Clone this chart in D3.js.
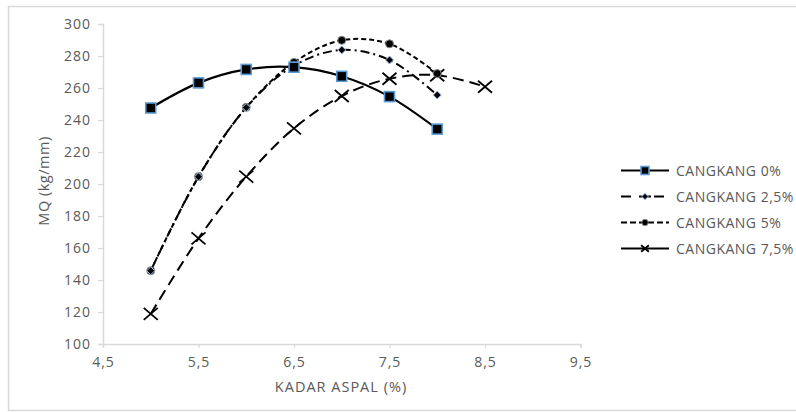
<!DOCTYPE html>
<html><head><meta charset="utf-8">
<script src="https://cdn.jsdelivr.net/npm/d3@7"></script>
<style>body{margin:0;background:#fff}svg{display:block}</style>
</head><body>
<script>
const xTicks = [4.5, 5.5, 6.5, 7.5, 8.5, 9.5];
const yTicks = [100, 120, 140, 160, 180, 200, 220, 240, 260, 280, 300];
const seriesNames = ["CANGKANG 0%", "CANGKANG 2,5%", "CANGKANG 5%", "CANGKANG 7,5%"];
const xs0 = [5, 5.5, 6, 6.5, 7, 7.5, 8];
const ys0 = [247.5, 263.2, 271.6, 273, 267.3, 254.6, 234.3];
const xs25 = [5, 5.5, 6, 6.5, 7, 7.5, 8];
const ys25 = [145.8, 204.5, 247.8, 274, 283.8, 277.5, 255.6];
const xs5 = [5, 5.5, 6, 6.5, 7, 7.5, 8];
const ys5 = [145.8, 204.6, 247.9, 276, 289.8, 287.6, 269];
const xs75 = [5, 5.5, 6, 6.5, 7, 7.5, 8, 8.5];
const ys75 = [118.8, 166, 204.6, 234.8, 255, 265.8, 268, 260.8];

const W = 796, H = 412;
const svg = d3.select("body").append("svg").attr("width", W).attr("height", H);
svg.append("rect").attr("x", 8.5).attr("y", 6.5).attr("width", 800).attr("height", 404)
  .attr("fill", "#fff").attr("stroke", "#d9d9d9").attr("stroke-width", 1.5);

const x = d3.scaleLinear().domain([4.5, 9.5]).range([103, 580.5]);
const y = d3.scaleLinear().domain([100, 300]).range([344, 24]);
const font = "'Open Sans', 'Noto Sans', sans-serif";
const grey = "#595959";

const gx = svg.append("g").attr("transform", "translate(0,344)")
  .call(d3.axisBottom(x).tickValues(xTicks).tickSize(4).tickPadding(9)
    .tickFormat(d => d3.format(".1f")(d).replace(".", ",")));
const gy = svg.append("g").attr("transform", "translate(103,0)")
  .call(d3.axisLeft(y).tickValues(yTicks).tickSize(5).tickPadding(7));
[gx, gy].forEach(g => {
  g.select(".domain").attr("stroke", "#d9d9d9").attr("stroke-width", 1.5);
  g.selectAll(".tick line").attr("stroke", "#d9d9d9").attr("stroke-width", 1.2);
  g.selectAll("text").attr("fill", grey).attr("font-family", font).attr("font-size", 14)
    .attr("letter-spacing", 1);
});

svg.append("text").attr("x", 341).attr("y", 392).attr("text-anchor", "middle")
  .attr("fill", grey).attr("font-family", font).attr("font-size", 14.5).attr("letter-spacing", 1)
  .text("KADAR ASPAL (%)");
svg.append("text").attr("transform", "translate(48.5,181) rotate(-90)").attr("text-anchor", "middle")
  .attr("fill", grey).attr("font-family", font).attr("font-size", 14.5).attr("letter-spacing", 0.5)
  .text("MQ (kg/mm)");

const data = [
  {name: seriesNames[0], xs: xs0, ys: ys0},
  {name: seriesNames[1], xs: xs25, ys: ys25},
  {name: seriesNames[2], xs: xs5, ys: ys5},
  {name: seriesNames[3], xs: xs75, ys: ys75}
];
const styles = [
  {dash: null, width: 2.2, marker: "square"},
  {dash: "9,4,2,4", width: 2, marker: "diamond"},
  {dash: "5,3", width: 2, marker: "circle"},
  {dash: "11,6", width: 2, marker: "x"}
];
const legendDash = [null, "10,8,12,3", "6,3", null];

function drawMarker(g, type, cx, cy, k) {
  if (type === "square") {
    g.append("rect").attr("x", cx - 5 * k).attr("y", cy - 5 * k).attr("width", 10 * k).attr("height", 10 * k)
      .attr("fill", "#000").attr("stroke", "#5b9bd5").attr("stroke-width", 1.6);
  } else if (type === "diamond") {
    g.append("path").attr("d", `M${cx},${cy-4*k}L${cx+4*k},${cy}L${cx},${cy+4*k}L${cx-4*k},${cy}Z`)
      .attr("fill", "#000").attr("stroke", "#9fc3e7").attr("stroke-width", 1);
  } else if (type === "circle") {
    g.append("circle").attr("cx", cx).attr("cy", cy).attr("r", 4 * k)
      .attr("fill", "#000").attr("stroke", "#888").attr("stroke-width", 1);
  } else {
    g.append("path").attr("d", `M${cx-7*k},${cy-6*k}L${cx+7*k},${cy+6*k}M${cx-7*k},${cy+6*k}L${cx+7*k},${cy-6*k}`)
      .attr("stroke", "#000").attr("stroke-width", 1.8).attr("fill", "none");
  }
}

const line = d3.line().x(d => x(d[0])).y(d => y(d[1])).curve(d3.curveCatmullRom.alpha(0.5));
const plot = svg.append("g");
data.forEach((s, i) => {
  const pts = s.xs.map((v, j) => [v, s.ys[j]]);
  plot.append("path").attr("d", line(pts)).attr("fill", "none").attr("stroke", "#000")
    .attr("stroke-width", styles[i].width).attr("stroke-dasharray", styles[i].dash);
});
[3, 2, 1, 0].forEach(i => {
  const s = data[i];
  const mg = plot.append("g");
  s.xs.forEach((v, j) => drawMarker(mg, styles[i].marker, x(v), y(s.ys[j]), 1));
});

const leg = svg.append("g");
data.forEach((s, i) => {
  const ly = 170.5 + i * 26;
  leg.append("line").attr("x1", 621).attr("x2", 669).attr("y1", ly).attr("y2", ly)
    .attr("stroke", "#000").attr("stroke-width", 2).attr("stroke-dasharray", legendDash[i]);
  drawMarker(leg, styles[i].marker, 645, ly, i === 3 ? 0.55 : 0.8);
  leg.append("text").attr("x", 676).attr("y", ly + 5).attr("fill", grey)
    .attr("font-family", font).attr("font-size", 14).attr("letter-spacing", 0.5).text(s.name);
});
</script>
</body></html>
